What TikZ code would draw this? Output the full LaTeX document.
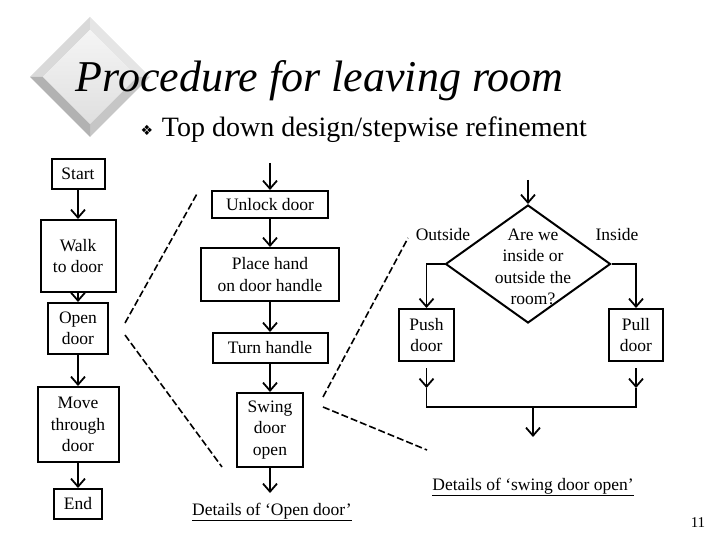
\documentclass[tikz,border=0pt]{standalone}
\usepackage{fontspec}
\setmainfont{Liberation Serif}
\newfontfamily\symfont{DejaVu Sans}
\usetikzlibrary{arrows.meta, shapes.geometric}

\begin{document}
\begin{tikzpicture}[x=1pt, y=-1pt, >={Straight Barb[length=8pt,width=14pt]}, line width=1.8pt,
      bx/.style={draw, line width=2pt, font=\fontsize{17.5}{21.5}\selectfont,
                 inner sep=0pt, align=center},
      txt/.style={font=\fontsize{17.5}{21.5}\selectfont, inner sep=0pt, align=center},
      dia/.style={draw, diamond, line width=2pt, minimum width=165pt,
                  minimum height=118pt, inner sep=0pt},
      cut/.style={line width=1.6pt, dash pattern=on 7pt off 3pt}]

    \useasboundingbox (0,0) rectangle (720,540);

    % Bevelled gem behind the title
    \fill[gray!30] (90,17) -- (30,77) -- (43,77) -- (90,30) -- cycle;
    \fill[gray!20] (90,17) -- (150,77) -- (137,77) -- (90,30) -- cycle;
    \fill[gray!45] (150,77) -- (90,137) -- (90,124) -- (137,77) -- cycle;
    \fill[gray!60] (30,77) -- (90,137) -- (90,124) -- (43,77) -- cycle;
    \shade[top color=gray!8, bottom color=gray!25] (90,30) -- (137,77) -- (90,124) -- (43,77) -- cycle;

    % Title and bullet line
    \node[font=\fontsize{44}{50}\selectfont\itshape, anchor=base west, inner sep=0pt]
        (title) at (75,92) {Procedure for leaving room};
    \node[font=\symfont\fontsize{14}{16}\selectfont, inner sep=0pt] (bullet) at (147,130) {❖};
    \node[font=\fontsize{28}{32}\selectfont, anchor=base west, inner sep=0pt]
        (sub) at (161,137) {Top down design/stepwise refinement};

    % Top level: the whole procedure
    \node[bx, minimum width=53pt, minimum height=30pt] (start) at (78,174) {Start};
    \node[bx, minimum width=75pt, minimum height=72pt] (walk)  at (78,256) {Walk\\to door};
    \node[bx, minimum width=60pt, minimum height=51pt] (open)  at (78,328.5) {Open\\door};
    \node[bx, minimum width=81pt, minimum height=75pt] (move)  at (78,424.5) {Move\\through\\door};
    \node[bx, minimum width=48pt, minimum height=30pt] (end)   at (78,504) {End};

    \draw[->] (start) -- (walk);
    \draw[->] (walk) -- (open);
    \draw[->] (open) -- (move);
    \draw[->] (move) -- (end);

    % Refinement of 'Open door'
    \coordinate (oin)  at (270,163);
    \coordinate (oout) at (270,493);
    \node[bx, minimum width=116pt, minimum height=27pt] (unlock) at (270,204.5) {Unlock door};
    \node[bx, minimum width=138pt, minimum height=53pt] (place)  at (270,274.5) {Place hand\\on door handle};
    \node[bx, minimum width=115pt, minimum height=30pt] (turn)   at (270,348) {Turn handle};
    \node[bx, minimum width=66pt, minimum height=74pt]  (swing)  at (270,430) {Swing\\door\\open};
    \node[txt] (det1) at (272,512) {\underline{Details of ‘Open door’}};

    \draw[->] (oin) -- (unlock);
    \draw[->] (unlock) -- (place);
    \draw[->] (place) -- (turn);
    \draw[->] (turn) -- (swing);
    \draw[->] (swing) -- (oout);

    % Zoom lines from 'Open door'
    \coordinate (z1a) at (125,323);
    \coordinate (z1b) at (198,192);
    \coordinate (z1c) at (125,335);
    \coordinate (z1d) at (222,467);
    \draw[cut] (z1a) -- (z1b);
    \draw[cut] (z1c) -- (z1d);

    % Refinement of 'Swing door open'
    \coordinate (qin) at (528,180);
    \node[dia] (q) at (528,264) {};
    \node[txt] (qtxt) at (533,267) {Are we\\inside or\\outside the\\room?};
    \node[txt] (outl) at (443,235) {Outside};
    \node[txt] (inl)  at (617,235) {Inside};
    \node[bx, minimum width=55pt, minimum height=52pt] (push) at (426.5,335) {Push\\door};
    \node[bx, minimum width=54pt, minimum height=52pt] (pull) at (636,335) {Pull\\door};

    \draw[->] (qin) -- (q.north);
    \draw[->] (q.west) -| (push.north);
    \draw[->] (q.east) -| (pull.north);

    % Both branches meet again below
    \coordinate (pa) at (426.5,388);
    \coordinate (pb) at (636,388);
    \coordinate (ja) at (426.5,407);
    \coordinate (jb) at (636,407);
    \coordinate (jm) at (533,407);
    \coordinate (qout) at (533,437);
    \draw[->, shorten <=6pt] (push) -- (pa);
    \draw[->, shorten <=6pt] (pull) -- (pb);
    \draw (pa) -- (ja) -- (jb) -- (pb);
    \draw[->] (jm) -- (qout);
    \node[txt] (det2) at (533,487) {\underline{Details of ‘swing door open’}};

    % Zoom lines from 'Swing door open'
    \coordinate (z2a) at (323,397);
    \coordinate (z2b) at (408,238);
    \coordinate (z2c) at (323,407);
    \coordinate (z2d) at (427,450);
    \draw[cut] (z2a) -- (z2b);
    \draw[cut] (z2c) -- (z2d);

    \node[font=\fontsize{15}{18}\selectfont, inner sep=0pt] (pgno) at (698,523) {11};

\end{tikzpicture}
\end{document}
